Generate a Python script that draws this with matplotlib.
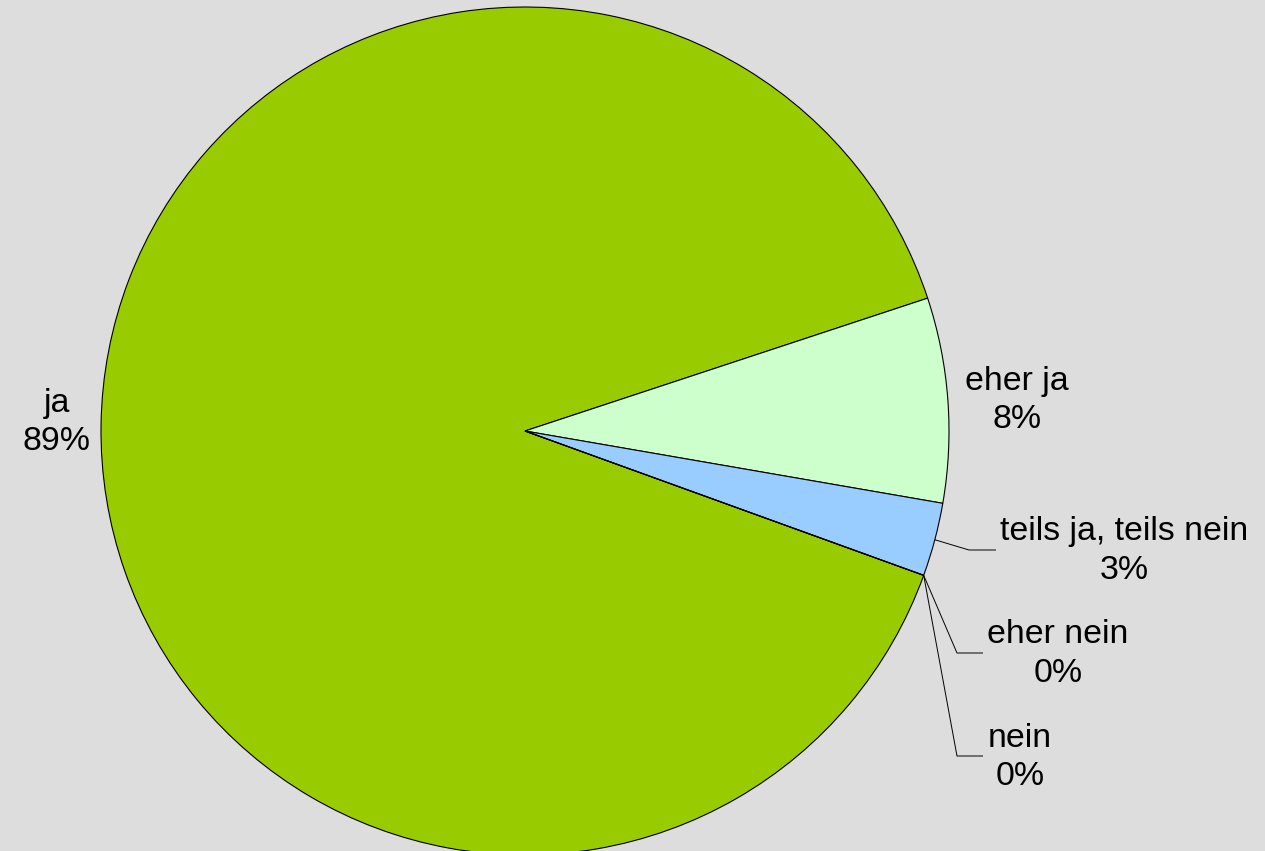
import numpy as np
import matplotlib
matplotlib.use("Agg")
import matplotlib.pyplot as plt

categories = ["ja", "eher ja", "teils ja, teils nein", "eher nein", "nein"]
values = [89.4, 7.8, 2.8, 0.0, 0.0]
colors = ["#99CC00", "#CCFFCC", "#99CCFF", "#FF9999", "#FF6666"]

W, H = 1265, 851
plt.rcParams['font.family'] = ['Liberation Sans', 'DejaVu Sans']

fig = plt.figure(figsize=(W / 100, H / 100), dpi=100)
fig.patch.set_facecolor("#DDDDDD")
ax = fig.add_axes([0, 0, 1, 1])
ax.set_facecolor("#DDDDDD")

cx, cy, R = 525, H - 431, 424
wedges, _ = ax.pie(values, colors=colors, startangle=-19.9, counterclock=False,
                   center=(cx, cy), radius=R, frame=True,
                   wedgeprops=dict(edgecolor="black", linewidth=0.8))
ax.set_xlim(0, W)
ax.set_ylim(0, H)
ax.set_aspect("equal")
ax.axis("off")

total = sum(values)
pcts = [f"{round(v / total * 100):d}%" for v in values]

# label layout (pixel coords from top)
label_pos = [(57, 422.5), (1017, 400.5), (1124, 551), (1058, 654), (1020, 757.5)]
# leader elbows (x_elbow, y_elbow, x_end) in pixel coords, None = no leader
leaders = [None, None, (969, 550, 996), (957, 653, 983), (957, 756, 983)]

fs = 24.4
for i, (cat, p) in enumerate(zip(categories, pcts)):
    lx, ly = label_pos[i]
    ax.text(lx, H - ly, f"{cat}\n{p}", ha="center", va="center", fontsize=fs,
            linespacing=1.30, color="black")
    if leaders[i] is not None:
        w = wedges[i]
        mid = np.deg2rad((w.theta1 + w.theta2) / 2)
        sx, sy = cx + R * np.cos(mid), cy + R * np.sin(mid)
        ex, ey, endx = leaders[i]
        ax.plot([sx, ex, endx], [sy, H - ey, H - ey], color="black", lw=0.7,
                solid_capstyle="butt")

fig.savefig("out.png", dpi=100, facecolor=fig.get_facecolor())
